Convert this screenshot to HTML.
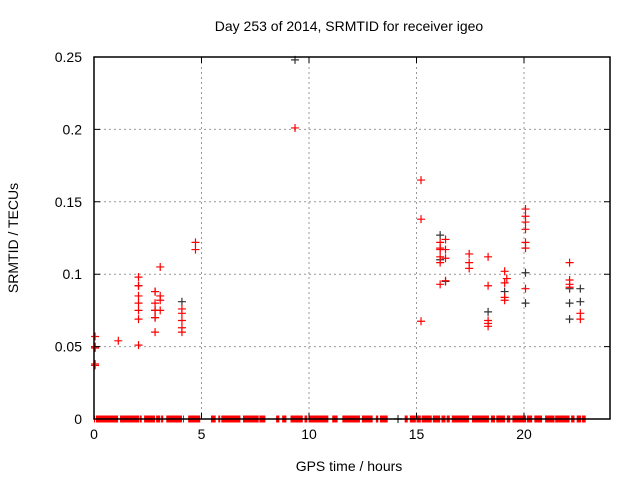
<!DOCTYPE html>
<html><head><meta charset="utf-8"><style>
html,body{margin:0;padding:0;background:#fff;}
svg{display:block;font-family:"Liberation Sans",sans-serif;}
</style></head><body>
<svg id="chart" width="640" height="480">
<text x="349" y="31" text-anchor="middle" font-size="14">Day 253 of 2014, SRMTID for receiver igeo</text>
<text x="349" y="471" text-anchor="middle" font-size="14">GPS time / hours</text>
<text transform="translate(18,238) rotate(-90)" text-anchor="middle" font-size="14">SRMTID / TECUs</text>
<g id="grid"></g><g id="zeros"></g><g id="pts"></g><g id="axes"></g>
</svg>
<script>
const xTicks=[0,5,10,15,20];
const yTicks=[0,0.05,0.1,0.15,0.2,0.25];
const yTickLabels=["0","0.05","0.1","0.15","0.2","0.25"];
const zeroSegments=[[0,0.02],[0.09,1.12],[1.21,2.11],[2.14,2.22],[2.33,2.84],[2.89,3.08],[3.12,3.22],[3.36,4.09],[4.14,4.18],[4.38,4.94],[5.44,5.66],[5.78,5.87],[5.92,6.81],[6.93,7.66],[7.69,7.97],[8.47,8.62],[8.75,8.95],[9.14,9.71],[9.79,9.92],[9.98,10.9],[11.08,11.33],[11.55,12.37],[12.46,12.96],[13.11,13.22],[13.3,13.66],[14.45,14.59],[14.69,14.97],[15.0,15.2],[15.24,15.71],[15.76,16.1],[16.16,16.35],[16.4,16.55],[16.64,17.44],[17.58,18.37],[18.46,18.65],[18.71,19.12],[19.2,19.36],[19.46,20.1],[20.14,20.38],[20.48,20.84],[20.98,21.42],[21.45,22.12],[22.19,22.35],[22.45,22.66],[22.7,22.87]];
const grayHours=[0.05,2.07,2.84,2.84,2.84,4.09,9.35,14.14,16.1,16.1,18.33,19.1,20.07,20.07,22.12,22.12,22.12,22.62,22.62,16.35];
const grayValues=[0.05,0.092,0.088,0.075,0.070,0.081,0.248,0,0.127,0.110,0.074,0.088,0.101,0.080,0.090,0.080,0.069,0.090,0.081,0.095];
const redHours=[0.05,0.05,0.05,0.05,0.05,1.13,2.07,2.07,2.07,2.07,2.07,2.07,2.07,2.84,2.84,2.84,2.84,2.84,3.08,3.08,3.08,3.08,4.09,4.09,4.09,4.09,4.09,4.72,4.72,9.35,15.21,15.21,15.21,16.1,16.1,16.1,16.1,16.1,16.1,16.35,16.35,16.35,16.35,17.45,17.45,17.45,18.33,18.33,18.33,18.33,18.33,19.1,19.1,19.1,19.1,19.2,20.07,20.07,20.07,20.07,20.07,20.07,20.07,22.12,22.12,22.12,22.12,22.62,22.62];
const redValues=[0.057,0.050,0.049,0.038,0.037,0.054,0.098,0.092,0.085,0.080,0.075,0.069,0.051,0.088,0.080,0.075,0.070,0.060,0.105,0.085,0.082,0.075,0.076,0.068,0.063,0.060,0.073,0.122,0.117,0.201,0.165,0.138,0.0675,0.122,0.117,0.112,0.108,0.093,0.118,0.124,0.117,0.111,0.0955,0.114,0.108,0.104,0.112,0.092,0.068,0.064,0.066,0.102,0.094,0.082,0.084,0.097,0.145,0.140,0.131,0.122,0.118,0.136,0.090,0.108,0.096,0.093,0.091,0.073,0.069];
const X0=94,X1=610,Y0=419,Y1=57,XMAX=24,YMAX=0.25;
const sx=h=>X0+(X1-X0)*h/XMAX, sy=v=>Y0-(Y0-Y1)*v/YMAX;
const NS="http://www.w3.org/2000/svg";
function mk(t,a,p){const e=document.createElementNS(NS,t);for(const k in a)e.setAttribute(k,a[k]);p.appendChild(e);return e;}
const grid=document.getElementById('grid'),axes=document.getElementById('axes');
xTicks.forEach((t,i)=>{
  if(t>0){const g=mk('line',{x1:sx(t),x2:sx(t),y1:Y1,y2:Y0,stroke:'#999','stroke-dasharray':'2,3'},grid);
  }
  const tk=mk('path',{d:`M${sx(t)},${Y0}v-6M${sx(t)},${Y1}v6`,stroke:'#000'},axes);
  
  const l=mk('text',{x:sx(t),y:Y0+20,'text-anchor':'middle','font-size':14},axes);l.textContent=t;
  
});
yTicks.forEach((t,i)=>{
  if(t>0&&t<YMAX){const g=mk('line',{x1:X0,x2:X1,y1:sy(t),y2:sy(t),stroke:'#999','stroke-dasharray':'2,3'},grid);
  }
  const tk=mk('path',{d:`M${X0},${sy(t)}h6M${X1},${sy(t)}h-6`,stroke:'#000'},axes);
  
  const l=mk('text',{x:82,y:sy(t)+5,'text-anchor':'end','font-size':14},axes);l.textContent=yTickLabels[i];
  
});
const zg=document.getElementById('zeros');
zeroSegments.forEach(s=>{
  const r=mk('rect',{x:sx(s[0]),y:Y0-3.5,width:Math.max(1,sx(s[1])-sx(s[0])),height:7,fill:'#f00'},zg);
  
});
const fr=mk('rect',{x:X0,y:Y1,width:X1-X0,height:Y0-Y1,fill:'none',stroke:'#000','stroke-width':1.5},axes);

const pg=document.getElementById('pts');
function cross(h,v,c,n){const x=sx(h),y=sy(v);
  const p=mk('path',{d:`M${x-4},${y}h8M${x},${y-4}v8`,stroke:c,'stroke-width':1.2},pg);
  }
grayHours.forEach((h,i)=>cross(h,grayValues[i],'#333','gray-point'));
redHours.forEach((h,i)=>cross(h,redValues[i],'#f00','red-point'));
</script>
</body></html>
